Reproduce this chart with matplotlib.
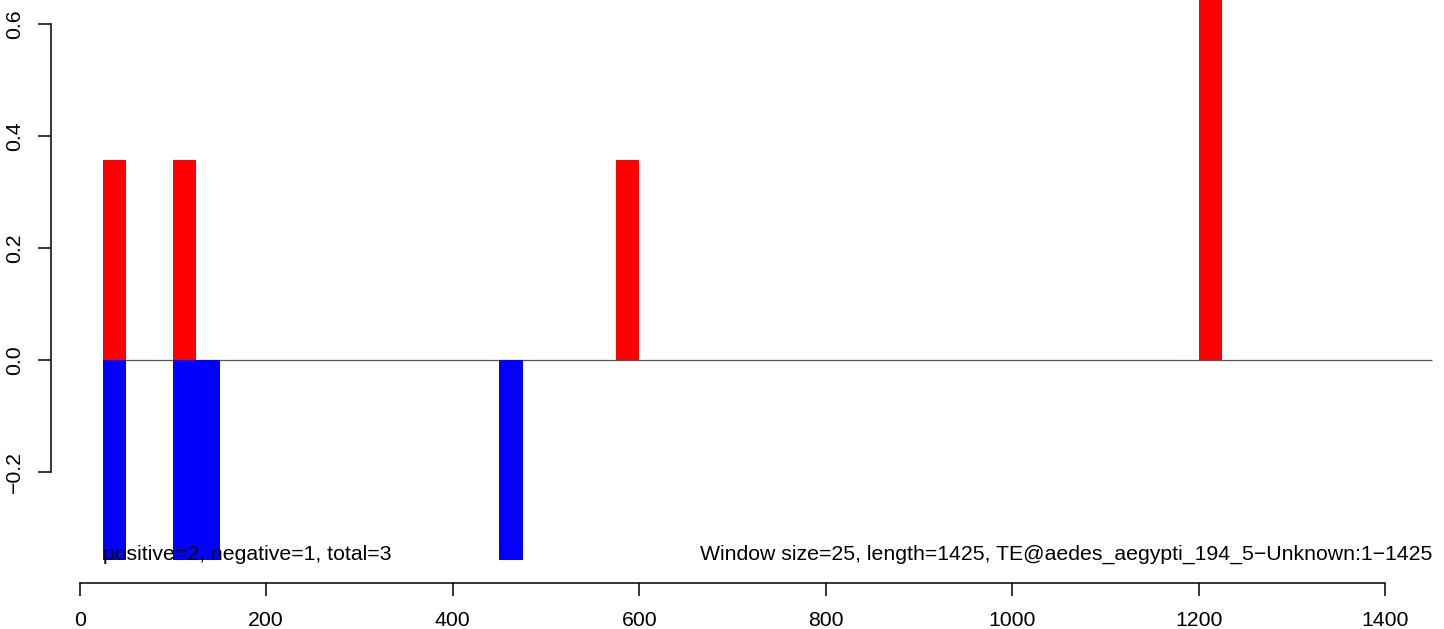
import matplotlib
matplotlib.use("Agg")
import matplotlib.pyplot as plt

# window starts (bp) and scores, window size 25
WINDOW = 25
pos_starts = [25, 100, 575, 1200]
pos_vals = [0.357, 0.357, 0.357, 0.714]
neg_starts = [25, 100, 125, 450]
neg_vals = [-0.357, -0.357, -0.357, -0.357]

xticks = [0, 200, 400, 600, 800, 1000, 1200, 1400]
yticks = [-0.2, 0.0, 0.2, 0.4, 0.6]

left_label = "positive=2, negative=1, total=3"
right_label = "Window size=25, length=1425, TE@aedes_aegypti_194_5\u2212Unknown:1\u22121425"

plt.rcParams["font.family"] = ["Liberation Sans", "DejaVu Sans"]
FS = 15.3

W, H = 1444, 629
fig = plt.figure(figsize=(W / 100, H / 100), dpi=100)
# plot region in pixels: x 50.7 .. 1461, y 0 .. 583
x0, x1 = 50.7, 1461.0
ytop, ybot = 0.0, 583.0
ax = fig.add_axes([x0 / W, (H - ybot) / H, (x1 - x0) / W, (ybot - ytop) / H])

ax.bar(pos_starts, pos_vals, width=WINDOW, align="edge", color="red", linewidth=0, zorder=2)
ax.bar(neg_starts, neg_vals, width=WINDOW, align="edge", color="blue", linewidth=0, zorder=2)
ax.hlines(0, 25, 1450, color="#555555", lw=0.9, zorder=1)

ax.text(25, -0.357, left_label, ha="left", va="baseline", fontsize=FS, zorder=3)
ax.text(1450, -0.357, right_label, ha="right", va="baseline", fontsize=FS, zorder=3)

ax.set_xlim(-31, 1481)
ax.set_ylim(-0.3986, 0.6434)

for s in ["top", "right"]:
    ax.spines[s].set_visible(False)
for s in ["left", "bottom"]:
    ax.spines[s].set_linewidth(1.1)
ax.spines["bottom"].set_bounds(0, 1400)
ax.spines["left"].set_bounds(-0.2, 0.6)

ax.set_xticks(xticks)
ax.set_xticklabels([str(t) for t in xticks])
ax.set_yticks(yticks)
ax.set_yticklabels(["\u22120.2", "0.0", "0.2", "0.4", "0.6"], rotation=90, va="center")
ax.tick_params(axis="both", length=9.4, width=1.1, labelsize=FS, direction="out")
ax.tick_params(axis="x", pad=11)
ax.tick_params(axis="y", pad=10)

fig.savefig("out.png", dpi=100)
